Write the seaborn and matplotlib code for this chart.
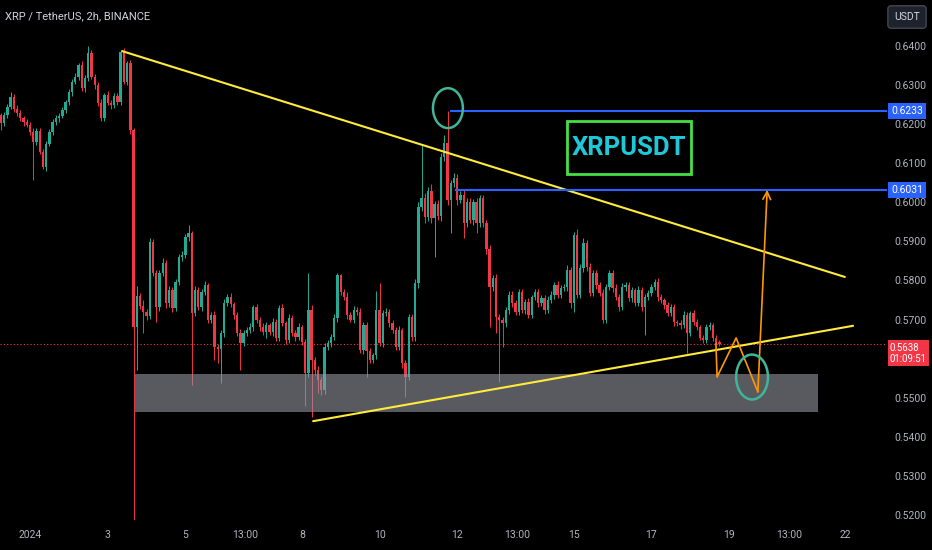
import numpy as np
import pandas as pd
import matplotlib
matplotlib.use("Agg")
import matplotlib.pyplot as plt
import seaborn as sns
from matplotlib import font_manager
from matplotlib.patches import Rectangle, Ellipse
import matplotlib.transforms as mtransforms

# ---------------- data ----------------
first_open = 0.6223
start_day = -0.75          # first 2h bar: Dec 31 06:00 (days relative to Jan 1 2024)
bar_hours = 2

closes = [
    .6203, .6223, .6244, .6270, .6240, .6228, .6215, .6205, .6198, .6180,
    .6155, .6182, .6130, .6090, .6150, .6180, .6206, .6215, .6222, .6236,
    .6257, .6282, .6308, .6321, .6351, .6292, .6318, .6382, .6321, .6300,
    .6254, .6216, .6275, .6254, .6248, .6272, .6257, .6385, .6308, .6356,
    .6185, .5680, .5760, .5735, .5720, .5710, .5898, .5819, .5733, .5819,
    .5845, .5742, .5776, .5730, .5796, .5860, .5865, .5911, .5921, .5717,
    .5776, .5733, .5770, .5788, .5699, .5712, .5630, .5625, .5666, .5742,
    .5758, .5740, .5712, .5666, .5640, .5666, .5673, .5681, .5732, .5699,
    .5681, .5668, .5686, .5668, .5694, .5653, .5730, .5691, .5648, .5704,
    .5666, .5655, .5681, .5643, .5563, .5724, .5597, .5571, .5545, .5520,
    .5630, .5640, .5655, .5704, .5814, .5770, .5758, .5712, .5700, .5725,
    .5720, .5622, .5686, .5620, .5597, .5609, .5724, .5640, .5717, .5720,
    .5691, .5673, .5630, .5673, .5589, .5553, .5706, .5655, .5793, .5988,
    .6011, .5962, .6030, .5960, .5995, .5965, .6116, .6152, .6006, .6049,
    .6062, .6006, .6020, .5947, .6000, .5955, .6000, .5947, .6010, .5947,
    .5880, .5783, .5806, .5706, .5699, .5690, .5724, .5763, .5742, .5720,
    .5770, .5724, .5745, .5712, .5758, .5770, .5742, .5755, .5724, .5750,
    .5763, .5788, .5763, .5781, .5783, .5827, .5742, .5916, .5763, .5832,
    .5896, .5834, .5768, .5819, .5788, .5768, .5700, .5783, .5819, .5781,
    .5758, .5732, .5783, .5788, .5755, .5775, .5742, .5776, .5732, .5758,
    .5768, .5783, .5796, .5758, .5750, .5737, .5717, .5732, .5694, .5691,
    .5686, .5712, .5666, .5717, .5694, .5681, .5653, .5648, .5681, .5686,
    .5653, .5643, .5638,
]

# upper / lower wick lengths in units of 0.0001
wick_up = [
    6, 7, 8, 12, 6, 8, 7, 6, 9, 8,
    10, 8, 9, 6, 7, 8, 6, 9, 7, 8,
    6, 8, 7, 9, 5, 10, 8, 18, 9, 7,
    8, 10, 6, 9, 7, 8, 9, 3, 10, 6,
    8, 6, 25, 9, 14, 8, 10, 7, 9, 8,
    12, 8, 10, 7, 9, 8, 11, 8, 21, 6,
    9, 7, 8, 10, 6, 8, 9, 7, 8, 10,
    7, 9, 6, 8, 10, 7, 8, 9, 6, 8,
    7, 10, 8, 6, 9, 7, 8, 10, 6, 9,
    8, 7, 9, 6, 8, 95, 12, 8, 9, 7,
    10, 8, 7, 9, 5, 3, 8, 12, 7, 9,
    8, 10, 7, 9, 8, 6, 50, 69, 8, 9,
    7, 8, 9, 10, 6, 8, 9, 7, 10, 12,
    136, 14, 10, 16, 9, 11, 10, 20, 81, 9,
    12, 10, 8, 14, 10, 12, 9, 11, 8, 10,
    9, 12, 8, 10, 9, 7, 8, 10, 9, 8,
    7, 9, 8, 10, 6, 8, 9, 7, 8, 10,
    9, 8, 10, 7, 9, 12, 8, 9, 16, 10,
    12, 8, 10, 9, 7, 8, 10, 9, 8, 7,
    9, 8, 10, 7, 9, 8, 6, 9, 8, 7,
    8, 9, 7, 10, 8, 6, 9, 7, 8, 6,
    7, 9, 8, 6, 8, 7, 6, 8, 7, 9,
    6, 7, 5,
]
wick_dn = [
    18, 7, 8, 6, 9, 7, 8, 10, 6, 8,
    98, 8, 7, 5, 9, 6, 8, 7, 9, 6,
    8, 7, 9, 6, 8, 7, 9, 8, 6, 10,
    7, 8, 9, 6, 10, 7, 8, 9, 6, 8,
    9, 505, 110, 8, 54, 12, 9, 8, 39, 10,
    8, 12, 9, 10, 8, 7, 9, 8, 10, 185,
    9, 8, 10, 7, 9, 8, 33, 35, 87, 10,
    8, 9, 10, 7, 69, 8, 9, 7, 10, 8,
    9, 7, 14, 8, 10, 9, 7, 8, 10, 9,
    8, 10, 7, 9, 83, 9, 146, 12, 33, 13,
    10, 8, 9, 7, 10, 8, 9, 10, 7, 8,
    9, 8, 10, 67, 9, 8, 10, 7, 9, 8,
    10, 8, 9, 7, 12, 51, 8, 10, 9, 12,
    10, 14, 9, 12, 100, 10, 14, 9, 12, 85,
    10, 12, 9, 38, 11, 9, 12, 25, 10, 9,
    12, 102, 9, 40, 159, 60, 8, 9, 10, 8,
    9, 7, 10, 8, 9, 7, 10, 8, 9, 7,
    8, 10, 7, 9, 8, 10, 12, 22, 9, 8,
    10, 9, 8, 7, 9, 8, 10, 9, 8, 10,
    7, 9, 8, 10, 8, 9, 7, 8, 10, 72,
    9, 8, 7, 10, 8, 9, 7, 8, 10, 8,
    9, 7, 52, 8, 9, 7, 6, 8, 9, 7,
    8, 6, 5,
]

x_tick_days = [0, 2, 4, 5 + 13 / 24, 7, 9, 11, 12 + 13 / 24, 14, 16, 18, 19 + 13 / 24, 21]
x_tick_labels = ["2024", "3", "5", "13:00", "8", "10", "12", "13:00", "15", "17", "19", "13:00", "22"]
# 0.5600 is hidden behind the last-price tag in the reference
price_ticks = [0.52, 0.53, 0.54, 0.55, 0.57, 0.58, 0.59, 0.60, 0.61, 0.62, 0.63, 0.64]

upper_trend_days = [2.37, 20.98]
upper_trend_prices = [0.6387, 0.5809]
lower_trend_days = [7.29, 21.19]
lower_trend_prices = [0.5440, 0.5684]
levels = [0.6233, 0.6031]
level_starts = [10.81, 10.94]
zone_days = [2.70, 20.29]
zone_prices = [0.5463, 0.5561]
path_days = [17.66, 17.69, 18.18, 18.74]
path_prices = [0.5640, 0.5553, 0.5653, 0.5515]
arrow_tip = (18.98, 0.6032)
circle_centers = [(10.76, 0.6241), (18.59, 0.5553)]
circle_sizes = [(0.77, 0.0102), (0.82, 0.0115)]
label_box_days = [13.83, 17.02]
label_box_prices = [0.6072, 0.6208]
last_price = 0.5638
countdown = "01:09:51"

# ---------------- table ----------------
n = min(len(closes), len(wick_up), len(wick_dn))
c = np.array(closes[:n])
o = np.concatenate([[first_open], c[:-1]])
hi = np.maximum(o, c) + np.array(wick_up[:n]) * 1e-4
lo = np.minimum(o, c) - np.array(wick_dn[:n]) * 1e-4
t = start_day + np.arange(n) * bar_hours / 24.0
df = pd.DataFrame({"t": t, "open": o, "high": hi, "low": lo, "close": c})
df["up"] = df["close"] >= df["open"]

GREEN = "#22ab94"
RED = "#f23645"
BG = "#000000"
TXT = "#b2b5be"

sns.set_theme(style="dark", rc={"axes.facecolor": BG, "figure.facecolor": BG,
                                "axes.edgecolor": BG, "text.color": TXT})

fl = font_manager.fontManager.ttflist
names = {f.name for f in fl}
if "Liberation Sans Narrow" in names:
    fam = "Liberation Sans Narrow"
elif "Roboto" in names:
    fam = "Roboto"
else:
    fam = "DejaVu Sans"
plt.rcParams["font.family"] = [fam, "DejaVu Sans"]

W, H = 932, 550
fig = plt.figure(figsize=(W / 100, H / 100), dpi=100, facecolor=BG)
renderer = fig.canvas.get_renderer()


def fit_size(text, target_px, base=10.0, **kw):
    tt = fig.text(0, 0, text, fontsize=base, **kw)
    w = tt.get_window_extent(renderer).width
    tt.remove()
    return base * target_px / w


ax_right_px = 887
ax = fig.add_axes([0, 30 / H, ax_right_px / W, 520 / H])
ax.set_facecolor(BG)

px_per_day = 38.84
x0_px = 30.0
xmin = (0 - x0_px) / px_per_day
xmax = (ax_right_px - x0_px) / px_per_day
px_per_unit = 3908.0
ymax = 0.64 + 46 / px_per_unit
ymin = 0.64 - (520 - 46) / px_per_unit
ax.set_xlim(xmin, xmax)
ax.set_ylim(ymin, ymax)

cols = np.where(df["up"], GREEN, RED)
ax.vlines(df["t"], df["low"], df["high"], colors=cols, linewidth=0.7, zorder=3)
body_bottom = np.minimum(df["open"], df["close"])
body_h = np.maximum(np.abs(df["close"] - df["open"]), 0.00012)
ax.bar(df["t"], body_h, bottom=body_bottom, width=0.06, color=cols, linewidth=0, zorder=3)

ax.add_patch(Rectangle((zone_days[0], zone_prices[0]), zone_days[1] - zone_days[0],
                       zone_prices[1] - zone_prices[0], facecolor="#9598a1", alpha=0.6,
                       edgecolor="none", zorder=4))

sns.lineplot(x=upper_trend_days, y=upper_trend_prices, ax=ax, color="#ffeb3b", linewidth=1.5, zorder=5)
sns.lineplot(x=lower_trend_days, y=lower_trend_prices, ax=ax, color="#ffeb3b", linewidth=1.5, zorder=5)

for lv, st in zip(levels, level_starts):
    ax.hlines(lv, st, xmax, color="#2962ff", linewidth=1.5, zorder=5)

ax.axhline(last_price, color=RED, linestyle=(0, (1, 2)), linewidth=0.8, zorder=2)

ax.plot(path_days, path_prices, color="#ff9800", linewidth=1.2, zorder=6)
ax.annotate("", xy=arrow_tip, xytext=(path_days[-1], path_prices[-1]),
            arrowprops=dict(arrowstyle="->", color="#ff9800", lw=1.2, mutation_scale=14,
                            shrinkA=0, shrinkB=0), zorder=6)

for (cx, cy), (cw, ch) in zip(circle_centers, circle_sizes):
    ax.add_patch(Ellipse((cx, cy), cw, ch, fill=False, edgecolor="#3fb59a", linewidth=1.8, zorder=6))

ax.add_patch(Rectangle((label_box_days[0], label_box_prices[0]), label_box_days[1] - label_box_days[0],
                       label_box_prices[1] - label_box_prices[0], fill=False,
                       edgecolor="#44e044", linewidth=2, zorder=6))
big = min(fit_size("XRPUSDT", 114, fontweight="bold"), 26)
ax.text(np.mean(label_box_days), np.mean(label_box_prices), "XRPUSDT", color="#1ec8d8",
        fontsize=big, fontweight="bold", ha="center", va="center", zorder=7)

axis_fs = 7.5
tag_fs = min(fit_size("01:09:51", 37), 7.2)
title_fs = 8.0

ax.grid(False)
for s in ax.spines.values():
    s.set_visible(False)
ax.yaxis.tick_right()
ax.set_yticks(price_ticks)
ax.set_yticklabels([f"{v:.4f}" for v in price_ticks])
ax.set_xticks(x_tick_days)
ax.set_xticklabels(x_tick_labels)
ax.tick_params(axis="y", length=0, pad=5.0, labelsize=axis_fs, labelcolor=TXT)
ax.tick_params(axis="x", length=0, pad=7.5, labelsize=axis_fs, labelcolor=TXT)
ax.set_xlabel("")
ax.set_ylabel("")

tr = mtransforms.blended_transform_factory(fig.transFigure, ax.transData)
for lv in levels:
    ax.text(891 / W, lv, f"{lv:.4f}", transform=tr, color="white", fontsize=axis_fs, ha="left",
            va="center", clip_on=False, zorder=10,
            bbox=dict(boxstyle="square,pad=0.3", facecolor="#2962ff", edgecolor="none"))
ax.text(890 / W, last_price + 0.0003, f"{last_price:.4f}\n{countdown}", transform=tr, color="white",
        fontsize=tag_fs, ha="left", va="top", linespacing=1.15, clip_on=False, zorder=10,
        bbox=dict(boxstyle="square,pad=0.25", facecolor=RED, edgecolor="none"))

fig.text(907 / W, 1 - 17 / H, "USDT", color="#d1d4dc", fontsize=axis_fs, ha="center", va="center",
         bbox=dict(boxstyle="round,pad=0.6,rounding_size=0.3", facecolor="#1e222d", edgecolor="#434651"))
fig.text(5 / W, 1 - 16 / H, "XRP / TetherUS, 2h, BINANCE", color="#d1d4dc", fontsize=title_fs,
         ha="left", va="center")

fig.savefig("out.png", dpi=100, facecolor=BG)
